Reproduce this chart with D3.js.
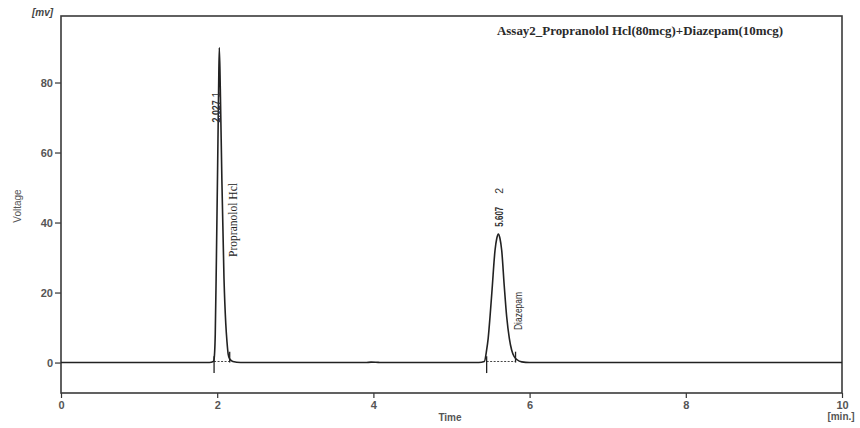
<!DOCTYPE html>
<html><head><meta charset="utf-8">
<script src="https://cdn.jsdelivr.net/npm/d3@7"></script>
<style>
html,body{margin:0;padding:0;background:#fff;}
svg{display:block;}
</style></head>
<body>
<svg id="chart" width="860" height="428"></svg>
<script>
// ---- data ----
const time = [0, 1.90, 1.95, 1.96, 1.975, 1.99, 2.005, 2.018, 2.027, 2.04, 2.06, 2.087, 2.11, 2.125, 2.14, 2.16, 2.20, 2.30,
  3.90, 3.97, 4.03, 4.10,
  5.35, 5.42, 5.45, 5.47, 5.493, 5.52, 5.557, 5.58, 5.60, 5.62, 5.643, 5.675, 5.707, 5.74, 5.77, 5.80, 5.84, 5.90, 6.00, 10];
const voltage = [0, 0, 0.3, 1, 8, 30, 55, 78, 90, 78, 52, 24, 11, 6, 2.5, 1, 0.3, 0,
  0, 0.12, 0.1, 0,
  0, 0.3, 3.6, 7, 13, 21, 32, 35.5, 36.7, 35.5, 32, 22, 13, 7, 3.6, 1.8, 0.8, 0.2, 0, 0];
const peakTimes = [2.027, 5.607];
const peakLabels = ["2.027", "5.607"];
const peakNumbers = ["1", "2"];
const peakNames = ["Propranolol Hcl", "Diazepam"];
const peakStart = [1.96, 5.45];
const peakEnd = [2.16, 5.82];
const xTicks = [0, 2, 4, 6, 8, 10];
const yTicks = [0, 20, 40, 60, 80];
const title = "Assay2_Propranolol Hcl(80mcg)+Diazepam(10mcg)";

// ---- layout ----
const svg = d3.select("#chart");
const x = d3.scaleLinear().domain([0, 10]).range([61, 842]);
const y = d3.scaleLinear().domain([-8.7, 99]).range([393, 16]);
const ink = "#222";

// axes
const yAxis = svg.append("g").attr("transform", "translate(61,0)")
  .call(d3.axisLeft(y).tickValues(yTicks).tickSize(6).tickPadding(2));
yAxis.select(".domain").remove();
yAxis.selectAll("line").attr("stroke", "#333").attr("stroke-width", 1.2);
yAxis.selectAll("text").attr("font-family", "Liberation Sans, Arial, sans-serif")
  .attr("font-size", 11).attr("font-weight", "bold").attr("fill", "#555");

const xAxis = svg.append("g").attr("transform", "translate(0,393)")
  .call(d3.axisBottom(x).tickValues(xTicks).tickSize(5).tickPadding(3).tickFormat(d3.format("d")));
xAxis.select(".domain").remove();
xAxis.selectAll("line").attr("stroke", "#333").attr("stroke-width", 1.2);
xAxis.selectAll("text").attr("font-family", "Liberation Sans, Arial, sans-serif")
  .attr("font-size", 11).attr("font-weight", "bold").attr("fill", "#555");

// frame
svg.append("rect").attr("x", x(0)).attr("y", y(99)).attr("width", x(10) - x(0)).attr("height", y(-8.7) - y(99))
  .attr("fill", "none").attr("stroke", "#3a3a3a").attr("stroke-width", 1.6);

// baseline dashed segments and integration markers
peakStart.forEach((s, i) => {
  svg.append("line").attr("x1", x(s)).attr("x2", x(peakEnd[i])).attr("y1", y(0.3)).attr("y2", y(0.3))
    .attr("stroke", "#444").attr("stroke-width", 1).attr("stroke-dasharray", "2,1.5");
  svg.append("line").attr("x1", x(s)).attr("x2", x(s)).attr("y1", y(1.8)).attr("y2", y(-3))
    .attr("stroke", ink).attr("stroke-width", 1.3);
  svg.append("line").attr("x1", x(peakEnd[i])).attr("x2", x(peakEnd[i])).attr("y1", y(3.1)).attr("y2", y(0))
    .attr("stroke", ink).attr("stroke-width", 1.3);
});

// signal
const pts = time.map((t, i) => [t, voltage[i]]);
svg.append("path").datum(pts)
  .attr("d", d3.line().x(d => x(d[0])).y(d => y(d[1])).curve(d3.curveMonotoneX))
  .attr("fill", "none").attr("stroke", ink).attr("stroke-width", 1.6);

// peak labels (retention time and number), rotated
const rtBottom = [68.6, 38.8];
peakTimes.forEach((t, i) => {
  const px = x(t) - (i === 0 ? 3 : 0) + 4;
  const g = svg.append("g").attr("transform", `translate(${px},${y(rtBottom[i])}) rotate(-90)`);
  g.append("text").attr("x", 0).attr("y", 0).text(peakLabels[i])
    .attr("font-family", "Liberation Sans Narrow, Liberation Sans, Arial, sans-serif")
    .attr("font-size", 10.5).attr("font-weight", "bold").attr("fill", "#333")
    .attr("textLength", i === 0 ? 22 : 20).attr("lengthAdjust", "spacingAndGlyphs");
  g.append("text").attr("x", (i === 0 ? 25 : 33)).attr("y", 0).text(peakNumbers[i])
    .attr("font-family", "Liberation Sans Narrow, Liberation Sans, Arial, sans-serif")
    .attr("font-size", 10.5).attr("fill", "#333");
});

// compound names
svg.append("text").attr("transform", `translate(${x(2.027) + 18},257) rotate(-90)`)
  .text(peakNames[0]).attr("font-family", "Liberation Serif, Times New Roman, serif")
  .attr("font-size", 12).attr("fill", "#222").attr("textLength", 74).attr("lengthAdjust", "spacingAndGlyphs");
svg.append("text").attr("transform", `translate(${x(5.607) + 23},330) rotate(-90)`)
  .text(peakNames[1]).attr("font-family", "Liberation Sans Narrow, Liberation Sans, Arial, sans-serif")
  .attr("font-size", 11).attr("fill", "#333").attr("textLength", 38).attr("lengthAdjust", "spacingAndGlyphs");

// title
svg.append("text").attr("x", 497).attr("y", 35).text(title)
  .attr("font-family", "Liberation Serif, Times New Roman, serif").attr("font-size", 13)
  .attr("font-weight", "bold").attr("fill", "#2a2a2a")
  .attr("textLength", 286).attr("lengthAdjust", "spacingAndGlyphs");

// axis labels
svg.append("text").attr("x", 32).attr("y", 16).text("[mv]")
  .attr("font-family", "Liberation Sans, Arial, sans-serif").attr("font-size", 10).attr("font-style", "italic")
  .attr("font-weight", "bold").attr("fill", "#444");
svg.append("text").attr("transform", "translate(21,206) rotate(-90)").attr("text-anchor", "middle").text("Voltage")
  .attr("font-family", "Liberation Sans, Arial, sans-serif").attr("font-size", 10).attr("fill", "#555");
svg.append("text").attr("x", 450).attr("y", 421).attr("text-anchor", "middle").text("Time")
  .attr("font-family", "Liberation Sans, Arial, sans-serif").attr("font-size", 10).attr("font-weight", "bold").attr("fill", "#555");
svg.append("text").attr("x", 841).attr("y", 420).attr("text-anchor", "middle").text("[min.]")
  .attr("font-family", "Liberation Sans, Arial, sans-serif").attr("font-size", 10).attr("font-weight", "bold").attr("fill", "#555");
</script>
</body></html>
